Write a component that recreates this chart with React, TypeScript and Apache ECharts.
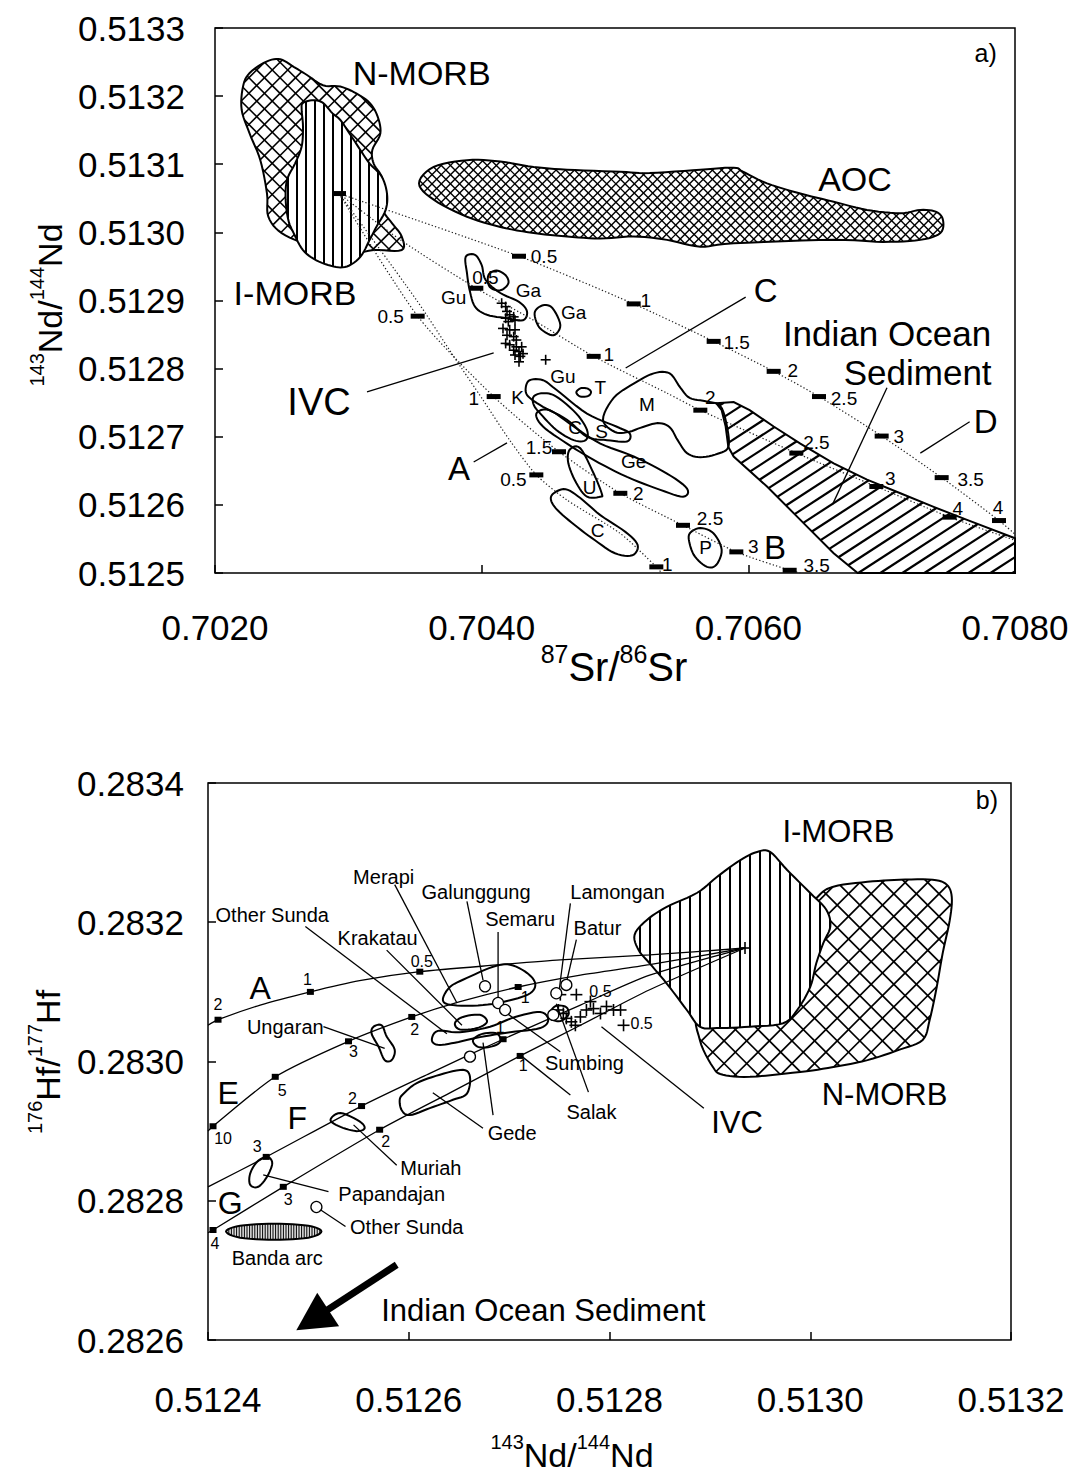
import React, { useEffect, useRef } from "react";
import * as echarts from "echarts";

const FONT = "'Liberation Sans', Arial, Helvetica, sans-serif";

// ================= Panel a) 87Sr/86Sr vs 143Nd/144Nd =================
const A_X_MIN = 0.702, A_X_MAX = 0.708, A_X_STEP = 0.002;
const A_Y_MIN = 0.5125, A_Y_MAX = 0.5133, A_Y_STEP = 0.0001;

const A_NMORB = [[0.70226,0.513234],[0.70239,0.513251],[0.70249,0.513254],[0.70259,0.513243],[0.70269,0.513231],[0.70281,0.513216],[0.70294,0.513214],[0.70306,0.513204],[0.70316,0.51319],[0.70322,0.51317],[0.70324,0.513145],[0.70318,0.513121],[0.70319,0.513101],[0.70325,0.513082],[0.70328,0.513057],[0.70326,0.513033],[0.70333,0.513013],[0.7034,0.512994],[0.7034,0.512974],[0.70319,0.512974],[0.70296,0.512967],[0.70271,0.512981],[0.7025,0.512999],[0.7024,0.513023],[0.70239,0.513057],[0.70234,0.513106],[0.70226,0.513145],[0.7022,0.51318],[0.70221,0.513214]];
const A_IMORB = [[0.70266,0.51319],[0.70274,0.513194],[0.70281,0.51319],[0.70288,0.513175],[0.70294,0.513165],[0.70301,0.513145],[0.70309,0.513121],[0.70316,0.513101],[0.70325,0.513082],[0.70329,0.513057],[0.70328,0.513033],[0.70321,0.513008],[0.70316,0.512989],[0.70309,0.512964],[0.70299,0.51295],[0.70289,0.51295],[0.70276,0.512959],[0.70266,0.512974],[0.70259,0.512999],[0.70255,0.513018],[0.70253,0.513048],[0.70254,0.513077],[0.7026,0.513101],[0.70265,0.513126],[0.70266,0.513155],[0.70265,0.51318]];
const A_AOC = [[0.70353,0.513072],[0.70364,0.513096],[0.70389,0.513106],[0.70414,0.513104],[0.70439,0.513096],[0.70464,0.513092],[0.70504,0.513089],[0.70526,0.513087],[0.70564,0.513092],[0.70589,0.513095],[0.70596,0.513089],[0.70614,0.513072],[0.70639,0.513057],[0.70664,0.513045],[0.70689,0.513033],[0.70714,0.513028],[0.70729,0.513033],[0.70741,0.51303],[0.70746,0.513018],[0.70744,0.512999],[0.70729,0.512989],[0.70701,0.512986],[0.70664,0.512989],[0.70589,0.512984],[0.70564,0.512979],[0.70539,0.512989],[0.70514,0.512994],[0.70489,0.512991],[0.70464,0.512994],[0.70439,0.512999],[0.70414,0.513008],[0.70389,0.513023],[0.70364,0.513048]];
const A_SEDIMENT = [[0.70576,0.512749],[0.70589,0.512751],[0.70601,0.512739],[0.70619,0.512715],[0.70639,0.51269],[0.70664,0.512661],[0.70689,0.512637],[0.70714,0.512617],[0.70739,0.512597],[0.70764,0.512578],[0.708,0.512551],[0.708,0.5125],[0.70682,0.5125],[0.70664,0.512529],[0.70639,0.512578],[0.70614,0.512627],[0.70589,0.512671],[0.70585,0.512685],[0.70583,0.512715],[0.7058,0.512739]];
const A_GU1 = [[0.70388,0.512964],[0.70395,0.512967],[0.704,0.512952],[0.70403,0.51293],[0.70414,0.512911],[0.70428,0.512898],[0.70434,0.512884],[0.70431,0.512871],[0.70419,0.512874],[0.70404,0.512879],[0.70395,0.512891],[0.70391,0.512915],[0.70389,0.51294]];
const A_GA1 = [[0.70405,0.512937],[0.70411,0.512944],[0.70418,0.512937],[0.7042,0.512925],[0.70414,0.512915],[0.70406,0.51292]];
const A_GA2 = [[0.7044,0.512884],[0.70446,0.512893],[0.70453,0.512889],[0.70459,0.512864],[0.70454,0.512849],[0.70445,0.512857],[0.70441,0.512869]];
const A_KS = [[0.70436,0.512783],[0.70446,0.512783],[0.70456,0.512769],[0.70479,0.512734],[0.70501,0.512715],[0.70511,0.512705],[0.70509,0.512693],[0.70494,0.512695],[0.70479,0.5127],[0.70464,0.512725],[0.70446,0.512744],[0.70435,0.512759],[0.70433,0.512771]];
const A_C1 = [[0.70439,0.512759],[0.70446,0.512764],[0.70456,0.512759],[0.70471,0.512734],[0.70479,0.51271],[0.70478,0.512695],[0.70469,0.512695],[0.70456,0.51271],[0.70444,0.512734],[0.70439,0.512747]];
const A_GE = [[0.70441,0.512734],[0.70451,0.512739],[0.70469,0.512715],[0.70489,0.51269],[0.70514,0.512671],[0.70539,0.512646],[0.70554,0.512624],[0.70551,0.512612],[0.70534,0.512622],[0.70509,0.512641],[0.70484,0.512666],[0.70464,0.51269],[0.70446,0.512715]];
const A_M = [[0.70491,0.512725],[0.70499,0.512757],[0.70514,0.512778],[0.70529,0.512793],[0.70541,0.512793],[0.70549,0.512772],[0.70556,0.512757],[0.70568,0.512752],[0.70579,0.512745],[0.70584,0.512715],[0.70585,0.512685],[0.70577,0.512675],[0.70564,0.51267],[0.70554,0.512676],[0.70547,0.512695],[0.70541,0.512714],[0.70532,0.51272],[0.70519,0.512713],[0.7051,0.512707],[0.705,0.512707]];
const A_T = [[0.70471,0.512765],[0.70474,0.512771],[0.70479,0.512771],[0.70482,0.512766],[0.7048,0.51276],[0.70474,0.512759]];
const A_U = [[0.70466,0.512681],[0.70474,0.512683],[0.70484,0.512646],[0.7049,0.512617],[0.70489,0.512612],[0.70479,0.512612],[0.70471,0.512632],[0.70465,0.512661]];
const A_C2 = [[0.70454,0.512617],[0.70463,0.512623],[0.70474,0.51261],[0.70489,0.512585],[0.70508,0.51256],[0.70517,0.512541],[0.70513,0.512526],[0.705,0.512529],[0.70485,0.512548],[0.7047,0.51257],[0.70457,0.512592],[0.70452,0.512607]];
const A_P = [[0.70556,0.512558],[0.70564,0.512566],[0.70574,0.512558],[0.7058,0.512534],[0.70576,0.512512],[0.70569,0.512509],[0.7056,0.512524],[0.70556,0.512543]];

const A_IVC = [[0.70415,0.512896],[0.70418,0.512891],[0.70419,0.512884],[0.70421,0.512879],[0.70424,0.512876],[0.70418,0.512874],[0.7042,0.512869],[0.70425,0.512871],[0.70416,0.512859],[0.70421,0.512857],[0.70425,0.512857],[0.70419,0.512849],[0.70424,0.512847],[0.70426,0.512842],[0.70418,0.512837],[0.70421,0.512835],[0.70426,0.512832],[0.7043,0.512832],[0.70424,0.512827],[0.70428,0.512825],[0.70431,0.512822],[0.70425,0.51282],[0.70429,0.512818],[0.70428,0.51281],[0.70448,0.512813]];

const A_ORIGIN = [0.70293, 0.513057];
const A_CURVE_A = [A_ORIGIN,[0.70351,0.512901],[0.70379,0.512818],[0.70401,0.512754],[0.70421,0.512695],[0.70441,0.512644],[0.70464,0.512607],[0.70504,0.512558],[0.70531,0.512509],[0.70535,0.5125]];
const A_CURVE_B = [A_ORIGIN,[0.70352,0.512877],[0.70409,0.512759],[0.70458,0.512678],[0.70504,0.512617],[0.70551,0.51257],[0.70591,0.512531],[0.70631,0.512504],[0.70639,0.5125]];
const A_CURVE_C = [A_ORIGIN,[0.70339,0.512989],[0.70396,0.512918],[0.70439,0.512871],[0.70484,0.512818],[0.70539,0.512764],[0.70564,0.512739],[0.70636,0.512676],[0.70696,0.512627],[0.70751,0.512582],[0.708,0.512548]];
const A_CURVE_D = [A_ORIGIN,[0.70428,0.512965],[0.70514,0.512895],[0.70574,0.51284],[0.70619,0.512796],[0.70653,0.512759],[0.707,0.512701],[0.70745,0.51264],[0.70788,0.512577],[0.708,0.512557]];

const A_TICKS_A = [[0.70441,0.512644,"0.5"],[0.70531,0.512509,"1"]];
const A_TICKS_B = [[0.70352,0.512877,"0.5"],[0.70409,0.512759,"1"],[0.70458,0.512678,"1.5"],[0.70504,0.512617,"2"],[0.70551,0.51257,"2.5"],[0.70591,0.512531,"3"],[0.70631,0.512504,"3.5"]];
const A_TICKS_C = [[0.70396,0.512918,"0.5"],[0.70484,0.512818,"1"],[0.70564,0.512739,"2"],[0.70636,0.512676,"2.5"],[0.70696,0.512627,"3"],[0.70751,0.512582,"4"]];
const A_TICKS_D = [[0.70428,0.512965,"0.5"],[0.70514,0.512895,"1"],[0.70574,0.51284,"1.5"],[0.70619,0.512796,"2"],[0.70653,0.512759,"2.5"],[0.707,0.512701,"3"],[0.70745,0.51264,"3.5"],[0.70788,0.512577,"4"]];
const A_TICKS_ORIGIN = [[0.70293,0.513057,""]];

const A_LABELS_BIG = [[0.70355,0.513234,"N-MORB"],[0.7068,0.513079,"AOC"],[0.7026,0.512911,"I-MORB"]];
const A_LABELS_IVC = [[0.70278,0.512751,"IVC"]];
const A_LABELS_CURVES = [[0.70383,0.512654,"A"],[0.7062,0.512537,"B"],[0.70613,0.512914,"C"],[0.70778,0.512722,"D"]];
const A_LABELS_SED = [[0.70704,0.512852,"Indian Ocean"],[0.70727,0.512794,"Sediment"]];
const A_LABELS_SMALL = [[0.70379,0.512905,"Gu"],[0.70435,0.512915,"Ga"],[0.70469,0.512882,"Ga"],[0.70461,0.512788,"Gu"],[0.70489,0.512773,"T"],[0.70427,0.512757,"K"],[0.7047,0.512713,"C"],[0.7049,0.512707,"S"],[0.70524,0.512747,"M"],[0.70514,0.512663,"Ge"],[0.70481,0.512626,"U"],[0.70487,0.512562,"C"],[0.70568,0.512537,"P"]];
const A_PANEL = [[0.70778,0.513264,"a)"]];
const A_LEADERS = [[0.70598,0.512905,0.70508,0.512801],[0.70766,0.512722,0.70729,0.512676],[0.70704,0.512772,0.70663,0.5126],[0.70314,0.512766,0.70409,0.512823],[0.70394,0.512663,0.70419,0.512691]];

// ================= Panel b) 143Nd/144Nd vs 176Hf/177Hf =================
const B_X_MIN = 0.5124, B_X_MAX = 0.5132, B_X_STEP = 0.0002;
const B_Y_MIN = 0.2826, B_Y_MAX = 0.2834, B_Y_STEP = 0.0002;

const B_IMORB = [[0.512825,0.283182],[0.512837,0.283203],[0.512857,0.283222],[0.512887,0.283242],[0.512907,0.283265],[0.51293,0.283289],[0.512947,0.283301],[0.51296,0.283301],[0.512977,0.283275],[0.513,0.283242],[0.513016,0.283218],[0.51302,0.283194],[0.513013,0.28317],[0.513006,0.283141],[0.513,0.283107],[0.512987,0.283074],[0.512973,0.283055],[0.51294,0.28305],[0.512907,0.283048],[0.51289,0.28305],[0.512877,0.283074],[0.512857,0.283112],[0.51284,0.283141],[0.512829,0.28316]];
const B_NMORB = [[0.51289,0.283031],[0.512903,0.282992],[0.512913,0.282981],[0.51294,0.282978],[0.51299,0.282985],[0.513023,0.282992],[0.513057,0.283002],[0.513089,0.283017],[0.513112,0.283031],[0.513119,0.28306],[0.513126,0.283107],[0.513132,0.283156],[0.513139,0.283203],[0.513141,0.283236],[0.513136,0.283254],[0.513122,0.283261],[0.513089,0.283261],[0.513057,0.283258],[0.513023,0.283251],[0.513007,0.283236],[0.51298,0.283189],[0.51294,0.283117],[0.51289,0.283074]];
const B_MERAPI = [[0.512634,0.283088],[0.512641,0.283107],[0.512658,0.28312],[0.512684,0.283136],[0.512701,0.283139],[0.512718,0.283127],[0.512726,0.283112],[0.512721,0.283098],[0.512701,0.283088],[0.512674,0.283081],[0.512644,0.283081]];
const B_KRAKATAU = [[0.512646,0.283055],[0.512654,0.283064],[0.512671,0.283067],[0.512678,0.283057],[0.512668,0.283048],[0.512651,0.283046]];
const B_OTHER_SUNDA = [[0.512623,0.283031],[0.512629,0.283044],[0.512651,0.283042],[0.512681,0.28305],[0.512706,0.283064],[0.512731,0.283071],[0.512739,0.28306],[0.512731,0.283048],[0.512701,0.283042],[0.512671,0.283035],[0.512646,0.283027],[0.512629,0.283024]];
const B_UNGARAN = [[0.512565,0.28305],[0.512573,0.283052],[0.512578,0.283036],[0.512586,0.283017],[0.512583,0.283002],[0.512576,0.283002],[0.51257,0.283021],[0.512563,0.28304]];
const B_SUMBING = [[0.512664,0.283031],[0.512674,0.28304],[0.512688,0.28304],[0.512691,0.283028],[0.512681,0.283021],[0.512669,0.283021]];
const B_SALAK = [[0.512741,0.283071],[0.512747,0.28308],[0.512757,0.283078],[0.512759,0.283067],[0.512751,0.283058],[0.512742,0.283061]];
const B_GEDE = [[0.512591,0.282945],[0.512595,0.282954],[0.512608,0.282969],[0.512631,0.282981],[0.512654,0.282988],[0.512661,0.282978],[0.512658,0.282954],[0.512644,0.282945],[0.512621,0.282933],[0.512601,0.282923],[0.512593,0.28293]];
const B_MURIAH = [[0.512522,0.282916],[0.512532,0.282926],[0.512551,0.282914],[0.512556,0.282904],[0.512548,0.2829],[0.512532,0.282906]];
const B_PAPANDAJAN = [[0.512442,0.282839],[0.512449,0.282856],[0.512459,0.282863],[0.512464,0.282854],[0.512459,0.282835],[0.51245,0.28282],[0.512442,0.282823]];
const B_BANDA = [[0.512418,0.282756],[0.512432,0.282764],[0.512466,0.282767],[0.5125,0.282764],[0.512513,0.282756],[0.5125,0.282747],[0.512466,0.282744],[0.512432,0.282747]];

const B_CIRCLES = [[0.512676,0.283108],[0.512689,0.283084],[0.512696,0.283074],[0.512747,0.283098],[0.512757,0.28311],[0.512744,0.283067],[0.512661,0.283007],[0.512508,0.282791]];
const B_IVC = [[0.512751,0.283096],[0.512767,0.283096],[0.512781,0.283086],[0.512749,0.283074],[0.512754,0.283069],[0.512757,0.283062],[0.512762,0.283057],[0.512766,0.283052],[0.512771,0.283064],[0.512777,0.283074],[0.512784,0.283076],[0.512791,0.283069],[0.512797,0.283079],[0.512804,0.283074],[0.512811,0.283074],[0.512814,0.283052],[0.512935,0.283163]];

const B_ORIGIN = [0.512935, 0.283163];
const B_CURVE_A = [B_ORIGIN,[0.51284,0.283153],[0.512751,0.283146],[0.512691,0.283139],[0.512611,0.283129],[0.512551,0.283116],[0.512502,0.2831],[0.512452,0.283081],[0.51241,0.28306],[0.5124,0.283052]];
const B_CURVE_E = [B_ORIGIN,[0.51284,0.283139],[0.512771,0.283124],[0.512709,0.283107],[0.512651,0.283086],[0.512603,0.283064],[0.51254,0.283029],[0.512467,0.282978],[0.512405,0.282907],[0.5124,0.2829]];
const B_CURVE_F = [B_ORIGIN,[0.51284,0.283124],[0.512771,0.283081],[0.512694,0.283032],[0.512621,0.282983],[0.512553,0.282936],[0.512458,0.282863],[0.5124,0.28282]];
const B_CURVE_G = [B_ORIGIN,[0.51284,0.283103],[0.512771,0.283052],[0.512711,0.283008],[0.512641,0.282955],[0.512571,0.282902],[0.512475,0.28282],[0.512405,0.282758],[0.5124,0.282754]];

const B_TICKS_A = [[0.51241,0.28306,"2"],[0.512502,0.2831,"1"],[0.512611,0.283129,"0.5"]];
const B_TICKS_E = [[0.512709,0.283107,"1"],[0.512603,0.283064,"2"],[0.51254,0.283029,"3"],[0.512467,0.282978,"5"],[0.512405,0.282907,"10"]];
const B_TICKS_F = [[0.512694,0.283032,"1"],[0.512553,0.282936,"2"],[0.512458,0.282863,"3"]];
const B_TICKS_G = [[0.512711,0.283008,"1"],[0.512571,0.282902,"2"],[0.512475,0.28282,"3"],[0.512405,0.282758,"4"]];

const B_LABELS_BIG = [[0.513028,0.283331,"I-MORB"],[0.513074,0.282953,"N-MORB"],[0.512927,0.282912,"IVC"]];
const B_LABELS_CURVES = [[0.512452,0.283106,"A"],[0.51242,0.282955,"E"],[0.512489,0.282919,"F"],[0.512422,0.282797,"G"]];
const B_LABELS_SED = [[0.512734,0.282643,"Indian Ocean Sediment"]];
const B_PANEL = [[0.513176,0.283376,"b)"]];
const B_LABELS_SMALL = [[0.512575,0.283265,"Merapi"],[0.512667,0.283243,"Galunggung"],[0.512464,0.28321,"Other Sunda"],[0.512711,0.283205,"Semaru"],[0.512569,0.283178,"Krakatau"],[0.512808,0.283243,"Lamongan"],[0.512788,0.283192,"Batur"],[0.512477,0.28305,"Ungaran"],[0.512775,0.282998,"Sumbing"],[0.512782,0.282928,"Salak"],[0.512703,0.282897,"Gede"],[0.512622,0.282847,"Muriah"],[0.512583,0.28281,"Papandajan"],[0.512598,0.282762,"Other Sunda"],[0.512469,0.282718,"Banda arc"]];
const B_LABELS_IVC_TICKS = [[0.512791,0.283101,"0.5"],[0.512832,0.283054,"0.5"]];
const B_LEADERS = [[0.512586,0.283254,0.512648,0.283084],[0.512658,0.28323,0.512674,0.283117],[0.512497,0.283194,0.512638,0.28304],[0.512689,0.283186,0.512689,0.283091],[0.512578,0.28316,0.512653,0.283052],[0.512761,0.283227,0.512749,0.283093],[0.512767,0.283175,0.512756,0.283107],[0.512515,0.28305,0.512576,0.283019],[0.512751,0.283014,0.512696,0.283071],[0.512779,0.282956,0.512747,0.283083],[0.512761,0.282952,0.512713,0.283007],[0.512674,0.282904,0.512624,0.282955],[0.512684,0.282923,0.512674,0.283027],[0.512588,0.282851,0.512545,0.282909],[0.51252,0.282813,0.512455,0.282837],[0.512537,0.282763,0.512512,0.282787],[0.512894,0.282933,0.512792,0.28305]];
const B_ARROW = [[0.512588, 0.282708, 0.512488, 0.282614]];

// ================= styles (layout, not data) =================
const A_TICK_OFF_A = [[-23,5],[11,-2]];
const A_TICK_OFF_B = [[-27,0],[-20,2],[-20,-4],[18,0],[27,-7],[17,-5],[27,-5]];
const A_TICK_OFF_C = [[9,-11],[15,-2],[10,-13],[20,-11],[14,-8],[8,-9]];
const A_TICK_OFF_D = [[25,0],[12,-3],[23,1],[19,-1],[25,2],[17,0],[29,2],[-1,-13]];
const B_TICK_OFF_A = [[0,-15],[-3,-12],[2,-10]];
const B_TICK_OFF_E = [[7,10],[3,13],[5,10],[7,14],[10,12]];
const B_TICK_OFF_F = [[-3,-12],[-9,-8],[-9,-10]];
const B_TICK_OFF_G = [[3,10],[6,12],[5,13],[2,14]];

const A_SHAPES = [
  { pts: A_NMORB, hatch: [45, 135], spacing: 11, hw: 1.6, fill: "#fff", smooth: true },
  { pts: A_IMORB, hatch: [90], spacing: 9, hw: 2, fill: "#fff", smooth: true },
  { pts: A_AOC, hatch: [45, 135], spacing: 6.5, hw: 1.4, fill: "#fff", smooth: true },
  { pts: A_SEDIMENT, hatch: [33], spacing: 12, hw: 2.2, fill: "#fff", smooth: false },
  { pts: A_GU1, smooth: true }, { pts: A_GA1, smooth: true }, { pts: A_GA2, smooth: true },
  { pts: A_KS, smooth: true }, { pts: A_C1, smooth: true }, { pts: A_GE, smooth: true },
  { pts: A_M, smooth: true }, { pts: A_T, smooth: true }, { pts: A_U, smooth: true },
  { pts: A_C2, smooth: true }, { pts: A_P, smooth: true },
];
const B_SHAPES = [
  { pts: B_NMORB, hatch: [45, 135], spacing: 16, hw: 1.7, fill: "#fff", smooth: true },
  { pts: B_IMORB, hatch: [90], spacing: 10, hw: 2, fill: "#fff", smooth: true },
  { pts: B_MERAPI, smooth: true }, { pts: B_KRAKATAU, smooth: true }, { pts: B_OTHER_SUNDA, smooth: true },
  { pts: B_UNGARAN, smooth: true }, { pts: B_SUMBING, smooth: true }, { pts: B_SALAK, smooth: true },
  { pts: B_GEDE, smooth: true }, { pts: B_MURIAH, smooth: true }, { pts: B_PAPANDAJAN, smooth: true },
  { pts: B_BANDA, hatch: [90], spacing: 2.6, hw: 1, fill: "#ddd", smooth: true },
];

// ================= helpers =================
function smoothClosed(pts: number[][], seg = 6) {
  const n = pts.length;
  const out: number[][] = [];
  for (let i = 0; i < n; i++) {
    const p0 = pts[(i - 1 + n) % n], p1 = pts[i], p2 = pts[(i + 1) % n], p3 = pts[(i + 2) % n];
    for (let s = 0; s < seg; s++) {
      const t = s / seg, t2 = t * t, t3 = t2 * t;
      const q = [0, 1].map((k) => 0.5 * (2 * p1[k] + (-p0[k] + p2[k]) * t + (2 * p0[k] - 5 * p1[k] + 4 * p2[k] - p3[k]) * t2 + (-p0[k] + 3 * p1[k] - 3 * p2[k] + p3[k]) * t3));
      out.push(q);
    }
  }
  return out;
}

function hatchSegs(poly: number[][], angleDeg: number, spacing: number) {
  const a = (angleDeg * Math.PI) / 180;
  const d = [Math.cos(a), -Math.sin(a)];
  const nv = [Math.sin(a), Math.cos(a)];
  let mn = Infinity, mx = -Infinity;
  for (const p of poly) {
    const v = p[0] * nv[0] + p[1] * nv[1];
    mn = Math.min(mn, v); mx = Math.max(mx, v);
  }
  const segs: number[][][] = [];
  for (let c = Math.ceil(mn / spacing) * spacing; c <= mx; c += spacing) {
    const hits: number[][] = [];
    for (let i = 0; i < poly.length; i++) {
      const p = poly[i], q = poly[(i + 1) % poly.length];
      const vp = p[0] * nv[0] + p[1] * nv[1] - c, vq = q[0] * nv[0] + q[1] * nv[1] - c;
      if ((vp < 0) !== (vq < 0)) {
        const t = vp / (vp - vq);
        const x = p[0] + (q[0] - p[0]) * t, y = p[1] + (q[1] - p[1]) * t;
        hits.push([x, y, x * d[0] + y * d[1]]);
      }
    }
    hits.sort((u, v) => u[2] - v[2]);
    for (let k = 0; k + 1 < hits.length; k += 2) segs.push([hits[k], hits[k + 1]]);
  }
  return segs;
}

function polygonSeries(shapes: any[], gi: number) {
  return {
    type: "custom", coordinateSystem: "cartesian2d", xAxisIndex: gi, yAxisIndex: gi, silent: true, z: 1,
    data: shapes.map((s, i) => [s.pts[0][0], s.pts[0][1], i]),
    encode: { x: 0, y: 1 },
    renderItem: (params: any, api: any) => {
      const idx = api.value(2);
      const sh = shapes[idx];
      let px = sh.pts.map((p: number[]) => api.coord(p));
      if (sh.smooth) px = smoothClosed(px);
      const base = idx * 3;
      const children: any[] = [];
      if (sh.fill) children.push({ type: "polygon", z2: base, shape: { points: px }, style: { fill: sh.fill, stroke: null } });
      (sh.hatch || []).forEach((ang: number) => {
        hatchSegs(px, ang, sh.spacing).forEach((s) => {
          children.push({ type: "line", z2: base + 1, shape: { x1: s[0][0], y1: s[0][1], x2: s[1][0], y2: s[1][1] }, style: { stroke: "#000", lineWidth: sh.hw } });
        });
      });
      children.push({ type: "polygon", z2: base + 2, shape: { points: px }, style: { fill: null, stroke: "#000", lineWidth: 2 } });
      return { type: "group", children };
    },
  };
}

function curveSeries(pts: number[][], gi: number, dotted: boolean) {
  return {
    type: "line", xAxisIndex: gi, yAxisIndex: gi, data: pts, symbol: "none", silent: true, z: 3,
    smooth: 0.25,
    lineStyle: dotted ? { color: "#222", width: 1.2, type: [1.3, 2.2] } : { color: "#000", width: 1.3 },
  };
}

function tickSeries(ticks: any[], offs: number[][], gi: number, w: number, h: number, fs: number) {
  return {
    type: "custom", coordinateSystem: "cartesian2d", xAxisIndex: gi, yAxisIndex: gi, silent: true, z: 5,
    data: ticks.map((t, i) => [t[0], t[1], i]),
    encode: { x: 0, y: 1 },
    renderItem: (params: any, api: any) => {
      const i = api.value(2);
      const c = api.coord([api.value(0), api.value(1)]);
      const children: any[] = [{ type: "rect", shape: { x: c[0] - w / 2, y: c[1] - h / 2, width: w, height: h }, style: { fill: "#000" } }];
      if (ticks[i][2]) {
        const o = offs[i] || [0, 0];
        children.push({ type: "text", x: c[0] + o[0], y: c[1] + o[1], style: { text: ticks[i][2], fontSize: fs, fontFamily: FONT, fill: "#000", align: "center", verticalAlign: "middle" } });
      }
      return { type: "group", children };
    },
  };
}

function textSeries(labels: any[], gi: number, fs: number) {
  return {
    type: "custom", coordinateSystem: "cartesian2d", xAxisIndex: gi, yAxisIndex: gi, silent: true, z: 6,
    data: labels.map((t, i) => [t[0], t[1], i]),
    encode: { x: 0, y: 1 },
    renderItem: (params: any, api: any) => {
      const i = api.value(2);
      const c = api.coord([api.value(0), api.value(1)]);
      return { type: "text", x: c[0], y: c[1], style: { text: labels[i][2], fontSize: fs, fontFamily: FONT, fill: "#000", align: "center", verticalAlign: "middle" } };
    },
  };
}

function leaderSeries(pairs: number[][], gi: number) {
  return {
    type: "custom", coordinateSystem: "cartesian2d", xAxisIndex: gi, yAxisIndex: gi, silent: true, z: 4,
    data: pairs,
    encode: { x: [0, 2], y: [1, 3] },
    renderItem: (params: any, api: any) => {
      const a = api.coord([api.value(0), api.value(1)]);
      const b = api.coord([api.value(2), api.value(3)]);
      return { type: "line", shape: { x1: a[0], y1: a[1], x2: b[0], y2: b[1] }, style: { stroke: "#000", lineWidth: 1.3 } };
    },
  };
}

function crossSeries(pts: number[][], gi: number, half: number) {
  return {
    type: "custom", coordinateSystem: "cartesian2d", xAxisIndex: gi, yAxisIndex: gi, silent: true, z: 4,
    data: pts,
    encode: { x: 0, y: 1 },
    renderItem: (params: any, api: any) => {
      const c = api.coord([api.value(0), api.value(1)]);
      return {
        type: "group",
        children: [
          { type: "line", shape: { x1: c[0] - half, y1: c[1], x2: c[0] + half, y2: c[1] }, style: { stroke: "#000", lineWidth: 1.6 } },
          { type: "line", shape: { x1: c[0], y1: c[1] - half, x2: c[0], y2: c[1] + half }, style: { stroke: "#000", lineWidth: 1.6 } },
        ],
      };
    },
  };
}

function arrowSeries(arr: number[][], gi: number) {
  return {
    type: "custom", coordinateSystem: "cartesian2d", xAxisIndex: gi, yAxisIndex: gi, silent: true, z: 4,
    data: arr,
    encode: { x: [0, 2], y: [1, 3] },
    renderItem: (params: any, api: any) => {
      const p1 = api.coord([api.value(0), api.value(1)]);
      const p2 = api.coord([api.value(2), api.value(3)]);
      const dx = p2[0] - p1[0], dy = p2[1] - p1[1];
      const L = Math.hypot(dx, dy); const ux = dx / L, uy = dy / L;
      const hl = 38, hw = 20;
      const bx = p2[0] - ux * hl, by = p2[1] - uy * hl;
      const nx = -uy, ny = ux;
      return {
        type: "group",
        children: [
          { type: "line", shape: { x1: p1[0], y1: p1[1], x2: bx + ux * 4, y2: by + uy * 4 }, style: { stroke: "#000", lineWidth: 7 } },
          { type: "polygon", shape: { points: [[p2[0], p2[1]], [bx + nx * hw, by + ny * hw], [bx - nx * hw, by - ny * hw]] }, style: { fill: "#000" } },
        ],
      };
    },
  };
}

function axisPair(gi: number, xmin: number, xmax: number, xstep: number, ymin: number, ymax: number, ystep: number, xMargin: number, yMargin: number) {
  const common = {
    type: "value", gridIndex: gi,
    axisLine: { show: false },
    axisTick: { show: true, inside: true, length: 8, lineStyle: { color: "#000", width: 1.5 } },
    splitLine: { show: false },
    showMinLabel: true, showMaxLabel: true,
  };
  return {
    x: { ...common, min: xmin, max: xmax, interval: xstep, axisLabel: { formatter: (v: number) => v.toFixed(4), fontSize: 35, color: "#000", fontFamily: FONT, margin: xMargin } },
    y: { ...common, min: ymin, max: ymax, interval: ystep, axisLabel: { formatter: (v: number) => v.toFixed(4), fontSize: 35, color: "#000", fontFamily: FONT, margin: yMargin } },
  };
}

function rich(n: number, s: number) {
  return {
    n: { fontSize: n, fontFamily: FONT, fill: "#000", color: "#000", lineHeight: n + 6, verticalAlign: "bottom" },
    s: { fontSize: s, fontFamily: FONT, fill: "#000", color: "#000", lineHeight: s + 1, verticalAlign: "top" },
  };
}

function title(x: number, y: number, text: string, rotate: boolean, n: number, s: number) {
  return { type: "text", x, y, rotation: rotate ? Math.PI / 2 : 0, silent: true, style: { text, rich: rich(n, s), align: "center", verticalAlign: "middle", fill: "#000" } };
}

export default function App() {
  const ref = useRef<HTMLDivElement>(null);
  useEffect(() => {
    if (!ref.current) return;
    const chart = echarts.init(ref.current, null, { renderer: "svg" });
    const a = axisPair(0, A_X_MIN, A_X_MAX, A_X_STEP, A_Y_MIN, A_Y_MAX, A_Y_STEP, 37, 30);
    const b = axisPair(1, B_X_MIN, B_X_MAX, B_X_STEP, B_Y_MIN, B_Y_MAX, B_Y_STEP, 42, 24);
    const option: any = {
      animation: false,
      backgroundColor: "#fff",
      textStyle: { fontFamily: FONT },
      grid: [
        { left: 215, top: 28, width: 800, height: 545, show: true, borderColor: "#000", borderWidth: 1.5, backgroundColor: "transparent", containLabel: false, outerBoundsMode: "none" },
        { left: 208, top: 783, width: 803, height: 557, show: true, borderColor: "#000", borderWidth: 1.5, backgroundColor: "transparent", containLabel: false, outerBoundsMode: "none" },
      ],
      xAxis: [a.x, b.x],
      yAxis: [a.y, b.y],
      graphic: [
        title(47, 305, "{s|143}{n|Nd/}{s|144}{n|Nd}", true, 34, 20),
        title(614, 664, "{s|87}{n|Sr/}{s|86}{n|Sr}", false, 40, 25),
        title(45, 1062, "{s|176}{n|Hf/}{s|177}{n|Hf}", true, 34, 20),
        title(572, 1452, "{s|143}{n|Nd/}{s|144}{n|Nd}", false, 34, 20),
      ],
      series: [
        polygonSeries(A_SHAPES, 0),
        curveSeries(A_CURVE_A, 0, true),
        curveSeries(A_CURVE_B, 0, true),
        curveSeries(A_CURVE_C, 0, true),
        curveSeries(A_CURVE_D, 0, true),
        crossSeries(A_IVC, 0, 5),
        leaderSeries(A_LEADERS, 0),
        tickSeries(A_TICKS_A, A_TICK_OFF_A, 0, 14, 5, 19),
        tickSeries(A_TICKS_B, A_TICK_OFF_B, 0, 14, 5, 19),
        tickSeries(A_TICKS_C, A_TICK_OFF_C, 0, 14, 5, 19),
        tickSeries(A_TICKS_D, A_TICK_OFF_D, 0, 14, 5, 19),
        tickSeries(A_TICKS_ORIGIN, [[0, 0]], 0, 14, 5, 19),
        textSeries(A_LABELS_BIG, 0, 34),
        textSeries(A_LABELS_IVC, 0, 38),
        textSeries(A_LABELS_CURVES, 0, 33),
        textSeries(A_LABELS_SED, 0, 35),
        textSeries(A_LABELS_SMALL, 0, 19),
        textSeries(A_PANEL, 0, 25),

        polygonSeries(B_SHAPES, 1),
        curveSeries(B_CURVE_A, 1, false),
        curveSeries(B_CURVE_E, 1, false),
        curveSeries(B_CURVE_F, 1, false),
        curveSeries(B_CURVE_G, 1, false),
        {
          type: "scatter", xAxisIndex: 1, yAxisIndex: 1, data: B_CIRCLES, symbol: "circle", symbolSize: 11, silent: true, z: 4,
          itemStyle: { color: "#fff", borderColor: "#000", borderWidth: 1.3, opacity: 1 },
        },
        crossSeries(B_IVC, 1, 6),
        leaderSeries(B_LEADERS, 1),
        arrowSeries(B_ARROW, 1),
        tickSeries(B_TICKS_A, B_TICK_OFF_A, 1, 7, 6, 16),
        tickSeries(B_TICKS_E, B_TICK_OFF_E, 1, 7, 6, 16),
        tickSeries(B_TICKS_F, B_TICK_OFF_F, 1, 7, 6, 16),
        tickSeries(B_TICKS_G, B_TICK_OFF_G, 1, 7, 6, 16),
        textSeries(B_LABELS_BIG, 1, 31),
        textSeries(B_LABELS_CURVES, 1, 32),
        textSeries(B_LABELS_SED, 1, 31),
        textSeries(B_PANEL, 1, 25),
        textSeries(B_LABELS_SMALL, 1, 20),
        textSeries(B_LABELS_IVC_TICKS, 1, 16),
      ],
    };
    chart.setOption(option);
    return () => chart.dispose();
  }, []);
  return <div ref={ref} style={{ position: "absolute", left: 0, top: 0, width: 1068, height: 1477, background: "#fff" }} />;
}
